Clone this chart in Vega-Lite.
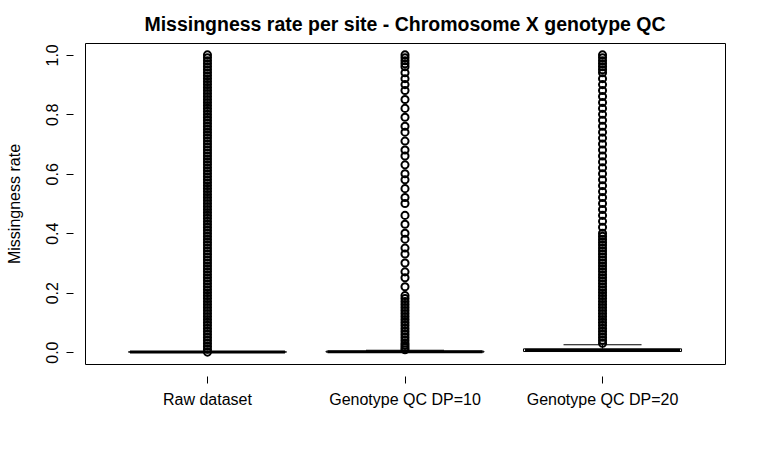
{
  "$schema": "https://vega.github.io/schema/vega-lite/v6.json",
  "autosize": {"type": "none"},
  "padding": {"left": 85, "top": 43, "right": 38, "bottom": 107},
  "width": 640,
  "height": 321,
  "config": {
    "font": "Liberation Sans",
    "view": {"stroke": "black", "strokeWidth": 1},
    "axis": {"grid": false, "domain": false, "tickColor": "black", "tickSize": 7, "labelFontSize": 16, "labelColor": "black", "titleFontSize": 16, "titleFontWeight": "normal", "titleColor": "black"}
  },
  "title": {"text": "Missingness rate per site - Chromosome X genotype QC", "fontSize": 19.5, "fontWeight": "bold", "offset": 8, "anchor": "middle"},
  "datasets": {
    "box": [
      {"group": "Raw dataset", "q1": 0, "med": 0, "q3": 0.001, "wlo": 0, "whi": 0.001},
      {"group": "Genotype QC DP=10", "q1": 0, "med": 0.001, "q3": 0.003, "wlo": 0, "whi": 0.006},
      {"group": "Genotype QC DP=20", "q1": 0.002, "med": 0.006, "q3": 0.011, "wlo": 0, "whi": 0.025}
    ],
    "pts": [
      {"group": "Raw dataset", "v": 0.0}, {"group": "Raw dataset", "v": 0.01}, {"group": "Raw dataset", "v": 0.02}, {"group": "Raw dataset", "v": 0.03}, {"group": "Raw dataset", "v": 0.04}, {"group": "Raw dataset", "v": 0.05}, {"group": "Raw dataset", "v": 0.06}, {"group": "Raw dataset", "v": 0.07}, {"group": "Raw dataset", "v": 0.08}, {"group": "Raw dataset", "v": 0.09},
      {"group": "Raw dataset", "v": 0.1}, {"group": "Raw dataset", "v": 0.11}, {"group": "Raw dataset", "v": 0.12}, {"group": "Raw dataset", "v": 0.13}, {"group": "Raw dataset", "v": 0.14}, {"group": "Raw dataset", "v": 0.15}, {"group": "Raw dataset", "v": 0.16}, {"group": "Raw dataset", "v": 0.17}, {"group": "Raw dataset", "v": 0.18}, {"group": "Raw dataset", "v": 0.19},
      {"group": "Raw dataset", "v": 0.2}, {"group": "Raw dataset", "v": 0.21}, {"group": "Raw dataset", "v": 0.22}, {"group": "Raw dataset", "v": 0.23}, {"group": "Raw dataset", "v": 0.24}, {"group": "Raw dataset", "v": 0.25}, {"group": "Raw dataset", "v": 0.26}, {"group": "Raw dataset", "v": 0.27}, {"group": "Raw dataset", "v": 0.28}, {"group": "Raw dataset", "v": 0.29},
      {"group": "Raw dataset", "v": 0.3}, {"group": "Raw dataset", "v": 0.31}, {"group": "Raw dataset", "v": 0.32}, {"group": "Raw dataset", "v": 0.33}, {"group": "Raw dataset", "v": 0.34}, {"group": "Raw dataset", "v": 0.35}, {"group": "Raw dataset", "v": 0.36}, {"group": "Raw dataset", "v": 0.37}, {"group": "Raw dataset", "v": 0.38}, {"group": "Raw dataset", "v": 0.39},
      {"group": "Raw dataset", "v": 0.4}, {"group": "Raw dataset", "v": 0.41}, {"group": "Raw dataset", "v": 0.42}, {"group": "Raw dataset", "v": 0.43}, {"group": "Raw dataset", "v": 0.44}, {"group": "Raw dataset", "v": 0.45}, {"group": "Raw dataset", "v": 0.46}, {"group": "Raw dataset", "v": 0.47}, {"group": "Raw dataset", "v": 0.48}, {"group": "Raw dataset", "v": 0.49},
      {"group": "Raw dataset", "v": 0.5}, {"group": "Raw dataset", "v": 0.51}, {"group": "Raw dataset", "v": 0.52}, {"group": "Raw dataset", "v": 0.53}, {"group": "Raw dataset", "v": 0.54}, {"group": "Raw dataset", "v": 0.55}, {"group": "Raw dataset", "v": 0.56}, {"group": "Raw dataset", "v": 0.57}, {"group": "Raw dataset", "v": 0.58}, {"group": "Raw dataset", "v": 0.59},
      {"group": "Raw dataset", "v": 0.6}, {"group": "Raw dataset", "v": 0.61}, {"group": "Raw dataset", "v": 0.62}, {"group": "Raw dataset", "v": 0.63}, {"group": "Raw dataset", "v": 0.64}, {"group": "Raw dataset", "v": 0.65}, {"group": "Raw dataset", "v": 0.66}, {"group": "Raw dataset", "v": 0.67}, {"group": "Raw dataset", "v": 0.68}, {"group": "Raw dataset", "v": 0.69},
      {"group": "Raw dataset", "v": 0.7}, {"group": "Raw dataset", "v": 0.71}, {"group": "Raw dataset", "v": 0.72}, {"group": "Raw dataset", "v": 0.73}, {"group": "Raw dataset", "v": 0.74}, {"group": "Raw dataset", "v": 0.75}, {"group": "Raw dataset", "v": 0.76}, {"group": "Raw dataset", "v": 0.77}, {"group": "Raw dataset", "v": 0.78}, {"group": "Raw dataset", "v": 0.79},
      {"group": "Raw dataset", "v": 0.8}, {"group": "Raw dataset", "v": 0.81}, {"group": "Raw dataset", "v": 0.82}, {"group": "Raw dataset", "v": 0.83}, {"group": "Raw dataset", "v": 0.84}, {"group": "Raw dataset", "v": 0.85}, {"group": "Raw dataset", "v": 0.86}, {"group": "Raw dataset", "v": 0.87}, {"group": "Raw dataset", "v": 0.88}, {"group": "Raw dataset", "v": 0.89},
      {"group": "Raw dataset", "v": 0.9}, {"group": "Raw dataset", "v": 0.91}, {"group": "Raw dataset", "v": 0.92}, {"group": "Raw dataset", "v": 0.93}, {"group": "Raw dataset", "v": 0.94}, {"group": "Raw dataset", "v": 0.95}, {"group": "Raw dataset", "v": 0.96}, {"group": "Raw dataset", "v": 0.97}, {"group": "Raw dataset", "v": 0.98}, {"group": "Raw dataset", "v": 0.99}, {"group": "Raw dataset", "v": 1.0},
      {"group": "Genotype QC DP=10", "v": 0.008}, {"group": "Genotype QC DP=10", "v": 0.015}, {"group": "Genotype QC DP=10", "v": 0.022}, {"group": "Genotype QC DP=10", "v": 0.03}, {"group": "Genotype QC DP=10", "v": 0.04}, {"group": "Genotype QC DP=10", "v": 0.05}, {"group": "Genotype QC DP=10", "v": 0.06}, {"group": "Genotype QC DP=10", "v": 0.07}, {"group": "Genotype QC DP=10", "v": 0.08}, {"group": "Genotype QC DP=10", "v": 0.09}, {"group": "Genotype QC DP=10", "v": 0.1}, {"group": "Genotype QC DP=10", "v": 0.11}, {"group": "Genotype QC DP=10", "v": 0.12}, {"group": "Genotype QC DP=10", "v": 0.13}, {"group": "Genotype QC DP=10", "v": 0.14}, {"group": "Genotype QC DP=10", "v": 0.15}, {"group": "Genotype QC DP=10", "v": 0.16}, {"group": "Genotype QC DP=10", "v": 0.17}, {"group": "Genotype QC DP=10", "v": 0.18}, {"group": "Genotype QC DP=10", "v": 0.19},
      {"group": "Genotype QC DP=10", "v": 0.22}, {"group": "Genotype QC DP=10", "v": 0.25}, {"group": "Genotype QC DP=10", "v": 0.27}, {"group": "Genotype QC DP=10", "v": 0.3}, {"group": "Genotype QC DP=10", "v": 0.33}, {"group": "Genotype QC DP=10", "v": 0.35}, {"group": "Genotype QC DP=10", "v": 0.38}, {"group": "Genotype QC DP=10", "v": 0.4}, {"group": "Genotype QC DP=10", "v": 0.43}, {"group": "Genotype QC DP=10", "v": 0.46}, {"group": "Genotype QC DP=10", "v": 0.5}, {"group": "Genotype QC DP=10", "v": 0.52}, {"group": "Genotype QC DP=10", "v": 0.55}, {"group": "Genotype QC DP=10", "v": 0.58}, {"group": "Genotype QC DP=10", "v": 0.6}, {"group": "Genotype QC DP=10", "v": 0.63}, {"group": "Genotype QC DP=10", "v": 0.66}, {"group": "Genotype QC DP=10", "v": 0.68}, {"group": "Genotype QC DP=10", "v": 0.71}, {"group": "Genotype QC DP=10", "v": 0.74}, {"group": "Genotype QC DP=10", "v": 0.76}, {"group": "Genotype QC DP=10", "v": 0.79}, {"group": "Genotype QC DP=10", "v": 0.82}, {"group": "Genotype QC DP=10", "v": 0.85}, {"group": "Genotype QC DP=10", "v": 0.88}, {"group": "Genotype QC DP=10", "v": 0.9}, {"group": "Genotype QC DP=10", "v": 0.92}, {"group": "Genotype QC DP=10", "v": 0.94}, {"group": "Genotype QC DP=10", "v": 0.96}, {"group": "Genotype QC DP=10", "v": 0.97}, {"group": "Genotype QC DP=10", "v": 0.98}, {"group": "Genotype QC DP=10", "v": 0.99}, {"group": "Genotype QC DP=10", "v": 1.0},
      {"group": "Genotype QC DP=20", "v": 0.03}, {"group": "Genotype QC DP=20", "v": 0.04}, {"group": "Genotype QC DP=20", "v": 0.05}, {"group": "Genotype QC DP=20", "v": 0.06}, {"group": "Genotype QC DP=20", "v": 0.07}, {"group": "Genotype QC DP=20", "v": 0.08}, {"group": "Genotype QC DP=20", "v": 0.09}, {"group": "Genotype QC DP=20", "v": 0.1}, {"group": "Genotype QC DP=20", "v": 0.11}, {"group": "Genotype QC DP=20", "v": 0.12}, {"group": "Genotype QC DP=20", "v": 0.13}, {"group": "Genotype QC DP=20", "v": 0.14}, {"group": "Genotype QC DP=20", "v": 0.15}, {"group": "Genotype QC DP=20", "v": 0.16}, {"group": "Genotype QC DP=20", "v": 0.17}, {"group": "Genotype QC DP=20", "v": 0.18}, {"group": "Genotype QC DP=20", "v": 0.19}, {"group": "Genotype QC DP=20", "v": 0.2}, {"group": "Genotype QC DP=20", "v": 0.21}, {"group": "Genotype QC DP=20", "v": 0.22}, {"group": "Genotype QC DP=20", "v": 0.23}, {"group": "Genotype QC DP=20", "v": 0.24}, {"group": "Genotype QC DP=20", "v": 0.25}, {"group": "Genotype QC DP=20", "v": 0.26}, {"group": "Genotype QC DP=20", "v": 0.27}, {"group": "Genotype QC DP=20", "v": 0.28}, {"group": "Genotype QC DP=20", "v": 0.29}, {"group": "Genotype QC DP=20", "v": 0.3}, {"group": "Genotype QC DP=20", "v": 0.31}, {"group": "Genotype QC DP=20", "v": 0.32}, {"group": "Genotype QC DP=20", "v": 0.33}, {"group": "Genotype QC DP=20", "v": 0.34}, {"group": "Genotype QC DP=20", "v": 0.35}, {"group": "Genotype QC DP=20", "v": 0.36}, {"group": "Genotype QC DP=20", "v": 0.37}, {"group": "Genotype QC DP=20", "v": 0.38}, {"group": "Genotype QC DP=20", "v": 0.39}, {"group": "Genotype QC DP=20", "v": 0.4}, {"group": "Genotype QC DP=20", "v": 0.42}, {"group": "Genotype QC DP=20", "v": 0.44}, {"group": "Genotype QC DP=20", "v": 0.46}, {"group": "Genotype QC DP=20", "v": 0.48}, {"group": "Genotype QC DP=20", "v": 0.5}, {"group": "Genotype QC DP=20", "v": 0.52}, {"group": "Genotype QC DP=20", "v": 0.54}, {"group": "Genotype QC DP=20", "v": 0.56}, {"group": "Genotype QC DP=20", "v": 0.58}, {"group": "Genotype QC DP=20", "v": 0.6}, {"group": "Genotype QC DP=20", "v": 0.62}, {"group": "Genotype QC DP=20", "v": 0.64}, {"group": "Genotype QC DP=20", "v": 0.66}, {"group": "Genotype QC DP=20", "v": 0.68}, {"group": "Genotype QC DP=20", "v": 0.7}, {"group": "Genotype QC DP=20", "v": 0.72}, {"group": "Genotype QC DP=20", "v": 0.74}, {"group": "Genotype QC DP=20", "v": 0.76}, {"group": "Genotype QC DP=20", "v": 0.78}, {"group": "Genotype QC DP=20", "v": 0.8}, {"group": "Genotype QC DP=20", "v": 0.82}, {"group": "Genotype QC DP=20", "v": 0.84}, {"group": "Genotype QC DP=20", "v": 0.86}, {"group": "Genotype QC DP=20", "v": 0.88}, {"group": "Genotype QC DP=20", "v": 0.9}, {"group": "Genotype QC DP=20", "v": 0.92}, {"group": "Genotype QC DP=20", "v": 0.94}, {"group": "Genotype QC DP=20", "v": 0.95}, {"group": "Genotype QC DP=20", "v": 0.96}, {"group": "Genotype QC DP=20", "v": 0.97}, {"group": "Genotype QC DP=20", "v": 0.98}, {"group": "Genotype QC DP=20", "v": 0.99}, {"group": "Genotype QC DP=20", "v": 1.0}
    ]
  },
  "encoding": {
    "x": {
      "field": "group", "type": "nominal", "sort": null, "title": null,
      "scale": {"domain": ["Raw dataset", "Genotype QC DP=10", "Genotype QC DP=20"], "paddingInner": 0.2, "paddingOuter": 0.22},
      "axis": {"labelAngle": 0, "offset": 12, "labelPadding": 8}
    }
  },
  "layer": [
    {
      "data": {"name": "pts"},
      "mark": {"type": "point", "shape": "circle", "filled": false, "color": "black", "size": 50, "strokeWidth": 2, "opacity": 1},
      "encoding": {
        "y": {
          "field": "v", "type": "quantitative", "title": "Missingness rate",
          "scale": {"domain": [-0.04, 1.04], "nice": false, "zero": false},
          "axis": {"values": [0, 0.2, 0.4, 0.6, 0.8, 1.0], "format": ".1f", "labelAngle": -90, "labelAlign": "center", "labelBaseline": "bottom", "offset": 12, "labelPadding": 6, "titlePadding": 22}
        }
      }
    },
    {
      "data": {"name": "box"},
      "mark": {"type": "rule", "strokeDash": [4, 3], "color": "black"},
      "encoding": {"y": {"field": "q3", "type": "quantitative"}, "y2": {"field": "whi"}}
    },
    {
      "data": {"name": "box"},
      "mark": {"type": "bar", "fill": "white", "stroke": "black", "strokeWidth": 1, "width": {"band": 1}},
      "encoding": {"y": {"field": "q1", "type": "quantitative"}, "y2": {"field": "q3"}}
    },
    {
      "data": {"name": "box"},
      "mark": {"type": "tick", "color": "black", "size": 78, "thickness": 1, "opacity": 1},
      "encoding": {"y": {"field": "whi", "type": "quantitative"}}
    },
    {
      "data": {"name": "box"},
      "mark": {"type": "tick", "color": "black", "size": 155, "thickness": 3, "opacity": 1},
      "encoding": {"y": {"field": "med", "type": "quantitative"}}
    }
  ]
}
